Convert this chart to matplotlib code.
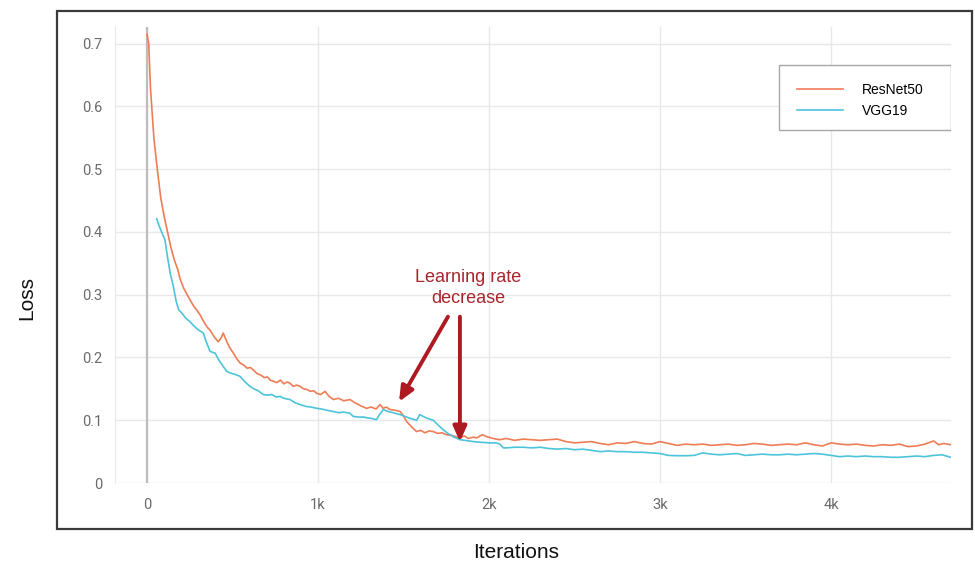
import matplotlib.pyplot as plt
from matplotlib.patches import Rectangle

# training loss, ResNet50
resnet_iter = [0, 10, 20, 40, 60, 80, 100, 120, 140, 160, 180, 195, 215, 235, 255, 275, 295, 310,
               330, 350, 370, 395, 417, 435, 446, 465, 485, 505, 525, 545, 565, 585, 605, 622,
               645, 665, 685, 705, 720, 740, 760, 780, 800, 820, 836, 855, 875, 895, 915, 935,
               955, 975, 992, 1015, 1041, 1065, 1090, 1120, 1150, 1187, 1215, 1250, 1284, 1310,
               1340, 1363, 1380, 1400, 1421, 1450, 1480, 1500, 1518, 1545, 1576, 1600, 1625, 1650,
               1674, 1700, 1725, 1752, 1780, 1805, 1830, 1855, 1880, 1908, 1930, 1960, 1986, 2010,
               2040, 2064, 2100, 2150, 2200, 2250, 2300, 2350, 2400, 2450, 2500, 2550, 2600, 2650,
               2700, 2750, 2800, 2850, 2900, 2950, 3000, 3050, 3100, 3150, 3200, 3250, 3300, 3350,
               3400, 3450, 3500, 3550, 3600, 3650, 3700, 3750, 3800, 3850, 3900, 3950, 4000, 4050,
               4100, 4150, 4200, 4250, 4300, 4350, 4400, 4450, 4500, 4550, 4600, 4630, 4660, 4700]
resnet_loss = [0.715, 0.70, 0.63, 0.55, 0.50, 0.455, 0.425, 0.40, 0.375, 0.355, 0.34, 0.324, 0.31,
               0.300, 0.29, 0.281, 0.274, 0.268, 0.258, 0.249, 0.243, 0.232, 0.225, 0.232, 0.239,
               0.226, 0.215, 0.207, 0.198, 0.191, 0.188, 0.183, 0.184, 0.180, 0.174, 0.172, 0.168,
               0.169, 0.164, 0.162, 0.160, 0.164, 0.158, 0.161, 0.159, 0.154, 0.156, 0.154, 0.150,
               0.149, 0.146, 0.147, 0.143, 0.141, 0.146, 0.138, 0.133, 0.135, 0.131, 0.133, 0.128,
               0.123, 0.119, 0.121, 0.118, 0.125, 0.119, 0.121, 0.117, 0.116, 0.114, 0.107, 0.098,
               0.090, 0.082, 0.084, 0.080, 0.083, 0.082, 0.079, 0.080, 0.077, 0.076, 0.074, 0.072,
               0.075, 0.071, 0.073, 0.072, 0.077, 0.074, 0.072, 0.070, 0.069, 0.071, 0.068, 0.070,
               0.069, 0.068, 0.069, 0.070, 0.066, 0.064, 0.065, 0.066, 0.063, 0.061, 0.064, 0.063,
               0.066, 0.063, 0.062, 0.066, 0.063, 0.060, 0.062, 0.061, 0.062, 0.060, 0.061, 0.062,
               0.060, 0.061, 0.063, 0.062, 0.060, 0.061, 0.062, 0.061, 0.064, 0.061, 0.059, 0.064,
               0.062, 0.061, 0.062, 0.060, 0.059, 0.061, 0.060, 0.062, 0.058, 0.059, 0.062, 0.067,
               0.061, 0.063, 0.061]

# training loss, VGG19
vgg_iter = [57, 70, 85, 105, 120, 135, 154, 170, 185, 203, 225, 251, 275, 300, 329, 345, 368, 385,
            398, 420, 445, 466, 490, 515, 544, 570, 602, 625, 650, 680, 705, 730, 755, 778, 800,
            836, 865, 895, 930, 960, 992, 1020, 1050, 1090, 1120, 1150, 1187, 1207, 1240, 1270,
            1284, 1310, 1342, 1360, 1382, 1410, 1440, 1480, 1510, 1540, 1577, 1595, 1615, 1640,
            1674, 1700, 1732, 1760, 1790, 1830, 1860, 1908, 1950, 2000, 2040, 2064, 2084, 2100,
            2150, 2200, 2250, 2300, 2350, 2400, 2450, 2500, 2550, 2600, 2650, 2700, 2750, 2800,
            2850, 2900, 2950, 3000, 3050, 3100, 3150, 3200, 3250, 3300, 3350, 3400, 3450, 3500,
            3550, 3600, 3650, 3700, 3750, 3800, 3850, 3900, 3950, 4000, 4050, 4100, 4150, 4200,
            4250, 4300, 4350, 4400, 4450, 4500, 4550, 4600, 4650, 4700]
vgg_loss = [0.421, 0.41, 0.40, 0.387, 0.36, 0.335, 0.313, 0.290, 0.276, 0.271, 0.263, 0.257, 0.250,
            0.244, 0.239, 0.226, 0.210, 0.208, 0.207, 0.196, 0.186, 0.178, 0.175, 0.173, 0.170,
            0.162, 0.154, 0.150, 0.147, 0.141, 0.140, 0.141, 0.137, 0.138, 0.135, 0.133, 0.128,
            0.125, 0.122, 0.121, 0.119, 0.118, 0.116, 0.114, 0.112, 0.113, 0.111, 0.106, 0.105,
            0.105, 0.104, 0.103, 0.101, 0.109, 0.117, 0.114, 0.112, 0.109, 0.106, 0.103, 0.100,
            0.109, 0.106, 0.103, 0.100, 0.093, 0.085, 0.079, 0.074, 0.069, 0.068, 0.066, 0.065,
            0.064, 0.064, 0.062, 0.056, 0.056, 0.057, 0.057, 0.056, 0.057, 0.055, 0.054, 0.055,
            0.053, 0.054, 0.052, 0.050, 0.051, 0.050, 0.050, 0.049, 0.049, 0.048, 0.047, 0.044,
            0.0435, 0.0435, 0.044, 0.048, 0.046, 0.045, 0.046, 0.047, 0.044, 0.045, 0.046, 0.045,
            0.045, 0.046, 0.045, 0.046, 0.047, 0.046, 0.044, 0.042, 0.043, 0.042, 0.043, 0.042,
            0.042, 0.041, 0.041, 0.042, 0.043, 0.042, 0.044, 0.045, 0.041]

y_ticks = [0, 0.1, 0.2, 0.3, 0.4, 0.5, 0.6, 0.7]
y_labels = ['0', '0.1', '0.2', '0.3', '0.4', '0.5', '0.6', '0.7']
x_ticks = [0, 1000, 2000, 3000, 4000]
x_labels = ['0', '1k', '2k', '3k', '4k']

c_resnet = '#ee7d55'
c_vgg = '#4cc4da'
c_red = '#ad1a22'

fig = plt.figure(figsize=(9.75, 5.68), dpi=100)
ax = fig.add_axes([0.118, 0.1496, 0.857, 0.803])

# outer frame
fig.patches.append(Rectangle((0.0585, 0.0687), 0.9385, 0.912, transform=fig.transFigure,
                             fill=False, edgecolor='#3a3a3a', linewidth=1.6))

ax.plot(resnet_iter, resnet_loss, color=c_resnet, lw=1.2, label='ResNet50', zorder=3)
ax.plot(vgg_iter, vgg_loss, color=c_vgg, lw=1.2, label='VGG19', zorder=3)
ax.axvline(0, color='#bdbdbd', lw=1.6, zorder=2)

ax.set_xlim(-187, 4700)
ax.set_ylim(0, 0.7266)
ax.set_yticks(y_ticks)
ax.set_yticklabels(y_labels)
ax.set_xticks(x_ticks)
ax.set_xticklabels(x_labels)
ax.grid(True, color='#e8e8e8', lw=1)
ax.set_axisbelow(True)
for s in ['top', 'right', 'bottom']:
    ax.spines[s].set_visible(False)
ax.spines['left'].set_color('#e8e8e8')
ax.tick_params(length=0, labelsize=10.5, labelcolor='#6a6a6a')
ax.tick_params(axis='y', pad=9)
ax.tick_params(axis='x', pad=11)
for lab in ax.get_xticklabels() + ax.get_yticklabels():
    lab.set_fontfamily('Roboto')

fig.text(0.027, 0.475, 'Loss', rotation=90, ha='center', va='center',
         fontsize=15, family='Liberation Sans', color='#111111')
fig.text(0.529, 0.027, 'Iterations', ha='center', va='center',
         fontsize=15, family='Liberation Sans', color='#111111')

# legend box
ax.add_patch(Rectangle((0.795, 0.775), 0.2057, 0.1425, transform=ax.transAxes,
                       facecolor='white', edgecolor='#a8a8a8', lw=1, zorder=5))
ax.legend(loc='upper left', bbox_to_anchor=(0.801, 0.905), frameon=False,
          prop={'family': 'Liberation Sans', 'size': 10}, handlelength=3.3,
          handletextpad=1.4, labelspacing=0.5).set_zorder(6)

ax.text(1877, 0.31, 'Learning rate\ndecrease', ha='center', va='center', fontsize=13,
        family='Liberation Sans', color='#a8252c', linespacing=1.3)
arrow = dict(arrowstyle='-|>,head_length=0.9,head_width=0.4', color=c_red, lw=2.8,
             shrinkA=0, shrinkB=0)
ax.annotate('', xy=(1474, 0.1295), xytext=(1760, 0.265), arrowprops=arrow)
ax.annotate('', xy=(1830, 0.0658), xytext=(1830, 0.265), arrowprops=arrow)

fig.savefig('out.png', dpi=100, facecolor='white')
